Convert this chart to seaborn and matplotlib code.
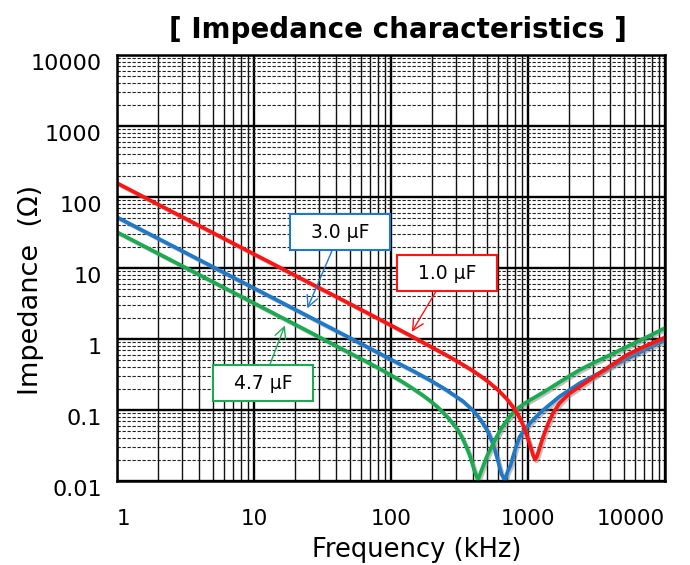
import numpy as np
import pandas as pd
import matplotlib.pyplot as plt
import matplotlib.patheffects as pe
from matplotlib.transforms import ScaledTranslation
from matplotlib.ticker import LogLocator, NullFormatter
import seaborn as sns

# Impedance curves (frequency in kHz, impedance in ohm)
freq_1uF = [1, 2, 5, 10, 20, 50, 100, 150, 200, 256, 300, 350, 400, 446, 500, 600, 700, 777,
            850, 925, 985, 1050, 1090, 1125, 1160, 1200, 1290, 1400, 1520, 1700, 2000, 2400,
            3000, 4000, 5300, 7000, 10000]
imp_1uF = [157, 78.5, 31.4, 15.7, 7.85, 3.14, 1.56, 1.03, 0.76, 0.587, 0.493, 0.413, 0.352, 0.305,
           0.26, 0.194, 0.143, 0.11, 0.084, 0.06, 0.0425, 0.029, 0.023, 0.020, 0.022, 0.027,
           0.042, 0.064, 0.09, 0.125, 0.17, 0.215, 0.29, 0.42, 0.6, 0.78, 1.05]

freq_3uF = [1, 2, 5, 10, 20, 50, 100, 150, 193, 250, 335, 400, 446, 500, 527, 565, 600, 640,
            680, 700, 720, 745, 777, 820, 870, 950, 1040, 1200, 1370, 1700, 2400, 3000, 3960,
            5500, 7500, 10000]
imp_3uF = [52, 26, 10.4, 5.2, 2.6, 1.04, 0.515, 0.343, 0.263, 0.195, 0.133, 0.097, 0.075, 0.053,
           0.043, 0.03, 0.02, 0.0125, 0.0101, 0.0125, 0.0145, 0.0165, 0.022, 0.031, 0.042, 0.054,
           0.066, 0.088, 0.11, 0.155, 0.24, 0.3, 0.4, 0.55, 0.74, 0.96]

freq_47uF = [1, 2, 5, 10, 20, 50, 65, 83, 100, 120, 145, 170, 193, 220, 250, 275, 302, 325,
             350, 377, 405, 431, 460, 500, 545, 590, 635, 680, 730, 781, 850, 950, 1035, 1200,
             1370, 1714, 2000, 2400, 3000, 4000, 6000, 8000, 10000]
imp_47uF = [32, 16, 6.4, 3.2, 1.6, 0.635, 0.49, 0.38, 0.31, 0.252, 0.2, 0.162, 0.135, 0.109,
            0.085, 0.069, 0.055, 0.0435, 0.032, 0.0225, 0.0142, 0.0103, 0.0145, 0.022, 0.031,
            0.042, 0.054, 0.066, 0.079, 0.092, 0.107, 0.125, 0.138, 0.163, 0.19, 0.25, 0.3,
            0.37, 0.46, 0.6, 0.88, 1.15, 1.43]

cap_labels = ['1.0 µF', '3.0 µF', '4.7 µF']
cap_colors = ['#FF1414', '#1F78C8', '#1AAA50']

x_ticks = [1, 10, 100, 1000, 10000]
x_ticklabels = ['1', '10', '100', '1000', '10000']
y_ticks = [0.01, 0.1, 1, 10, 100, 1000, 10000]
y_ticklabels = ['0.01', '0.1', '1', '10', '100', '1000', '10000']

df = pd.concat([
    pd.DataFrame({'Frequency': freq_1uF, 'Impedance': imp_1uF, 'Capacitance': cap_labels[0]}),
    pd.DataFrame({'Frequency': freq_3uF, 'Impedance': imp_3uF, 'Capacitance': cap_labels[1]}),
    pd.DataFrame({'Frequency': freq_47uF, 'Impedance': imp_47uF, 'Capacitance': cap_labels[2]}),
], ignore_index=True)

sns.set_style('white')
plt.rcParams['font.family'] = ['DejaVu Sans']
plt.rcParams['text.color'] = 'black'
plt.rcParams['axes.labelcolor'] = 'black'
plt.rcParams['xtick.color'] = 'black'
plt.rcParams['ytick.color'] = 'black'

fig = plt.figure(figsize=(6.9, 5.65), dpi=100)
ax = fig.add_axes([117 / 690, 1 - 481 / 565, 548 / 690, 426 / 565])
ax.set_xscale('log')
ax.set_yscale('log')

# red drawn last so it sits on top
sns.lineplot(data=df, x='Frequency', y='Impedance', hue='Capacitance',
             hue_order=[cap_labels[1], cap_labels[2], cap_labels[0]],
             palette=dict(zip(cap_labels, cap_colors)), estimator=None,
             linewidth=2.7, legend=False, ax=ax)
for line in ax.lines:
    line.set_path_effects([pe.SimpleLineShadow(offset=(1.2, -1.2), shadow_color='gray', alpha=0.5),
                           pe.Normal()])

ax.set_xlim(1, 10000)
ax.set_ylim(0.01, 10000)

# grid: heavy decades, thin minor verticals, dashed minor horizontals
ax.set_xticks(x_ticks, x_ticklabels)
ax.set_yticks(y_ticks, y_ticklabels)
ax.xaxis.set_minor_locator(LogLocator(base=10, subs=np.arange(2, 10), numticks=100))
ax.yaxis.set_minor_locator(LogLocator(base=10, subs=np.arange(2, 10), numticks=100))
ax.xaxis.set_minor_formatter(NullFormatter())
ax.yaxis.set_minor_formatter(NullFormatter())
ax.grid(which='major', axis='both', color='black', linewidth=1.7)
ax.grid(which='minor', axis='x', color='#111111', linewidth=1.0)
ax.grid(which='minor', axis='y', color='#222222', linewidth=0.8, linestyle=(0, (3, 1.5)))
ax.set_axisbelow(True)
for sp in ax.spines.values():
    sp.set_color('black')
    sp.set_linewidth(1.8)

ax.tick_params(which='both', length=0)
ax.tick_params(axis='x', labelsize=15.5, pad=20)
ax.tick_params(axis='y', labelsize=16, pad=11)
xl = ax.get_xticklabels()
xl[0].set_ha('left')
xl[-1].set_ha('right')
for lab in ax.get_yticklabels():
    lab.set_transform(lab.get_transform() + ScaledTranslation(0, -0.07, fig.dpi_scale_trans))

ax.set_xlabel('Frequency (kHz)', fontsize=18.5)
ax.xaxis.set_label_coords(0.547, -0.132)
ax.set_ylabel('Impedance  (Ω)', fontsize=19.5)
ax.yaxis.set_label_coords(-0.133, 0.448)
ax.set_title('[ Impedance characteristics ]', fontsize=20, fontweight='bold', pad=12, x=0.512)

# callout boxes
callouts = [
    ('  3.0 µF  ', (24.5, 2.7), (42.4, 32), cap_colors[1]),
    ('  1.0 µF  ', (142, 1.26), (256, 8.5), cap_colors[0]),
    ('  4.7 µF  ', (16.8, 1.55), (11.6, 0.24), cap_colors[2]),
]
for text, tip, pos, col in callouts:
    ax.annotate(text, xy=tip, xytext=pos, ha='center', va='center', fontsize=13.5,
                bbox=dict(boxstyle='square,pad=0.45', fc='white', ec=col, lw=1.5),
                arrowprops=dict(arrowstyle='->', color=col, lw=1.0, shrinkA=0, shrinkB=0,
                                mutation_scale=20))

fig.savefig('out.png', dpi=100)
